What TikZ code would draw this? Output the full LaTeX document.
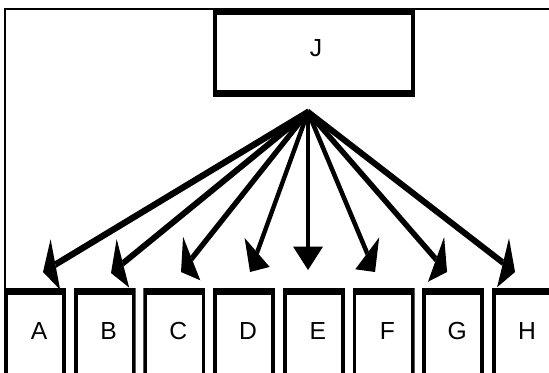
\documentclass[tikz,border=0pt]{standalone}
\usepackage{fontspec}
\setmainfont{Liberation Sans}
\usetikzlibrary{calc}
\begin{document}
\begin{tikzpicture}[x=0.75pt,y=-0.75pt,
  boxbase/.style={rectangle, inner sep=0pt, outer sep=0pt, fill=white,
    font=\fontsize{18.5pt}{21pt}\selectfont},
  jbox/.style={boxbase, minimum width=151.5pt, minimum height=66.75pt,
    path picture={
      \fill[black] (path picture bounding box.south west) rectangle (path picture bounding box.north east);
      \fill[white] ([xshift=2.9pt,yshift=-5.25pt]path picture bounding box.north west) rectangle ([xshift=-2.9pt,yshift=5.25pt]path picture bounding box.south east);}},
  lbox/.style={boxbase, minimum width=46.5pt, minimum height=64.5pt,
    execute at begin node=\hspace*{6pt},
    path picture={
      \fill[black] (path picture bounding box.south west) rectangle (path picture bounding box.north east);
      \fill[white] ([xshift=2.9pt,yshift=-5.25pt]path picture bounding box.north west) rectangle ([xshift=-2.9pt,yshift=-10pt]path picture bounding box.south east);}},
  frameline/.style={line width=1.5pt},
  conn/.style={line width=5.25pt},
  head/.style={fill=black}
]
\useasboundingbox (0,0) rectangle (549,372);
\clip (0,0) rectangle (549,372);
% outer frame
\draw[frameline] (4,9) -- (560,9);
\draw[frameline] (5,8) -- (5,290);
% top box
\node[jbox] (J) at (314,52.5) {\hspace*{3pt}\raisebox{6pt}{J}};
% bottom boxes
\foreach \n [count=\i from 0] in {A,B,C,D,E,F,G,H}
  \node[lbox] (\n) at ({35+69.7*\i},331) {\n};
% arrows (drawn in a horizontally squeezed canvas, as in the original)
\begin{scope}[transform canvas={xscale=0.56}]
  \coordinate (apex) at ({308/0.56},112);
  \foreach \n/\tx/\ty in {A/43/272, B/111/273, C/181/272, D/250/272, E/308/270, F/375/272, G/447/272, H/515/272} {
    \coordinate (t\n) at ({\tx/0.56},\ty);
    \coordinate (b\n) at ($(t\n)!17.5pt!(apex)$);
    \draw[conn] (apex) -- (b\n);
    \fill[head] (t\n) -- ($(b\n)!20pt!90:(t\n)$) -- ($(b\n)!20pt!-90:(t\n)$) -- cycle;
  }
\end{scope}
\end{tikzpicture}
\end{document}
